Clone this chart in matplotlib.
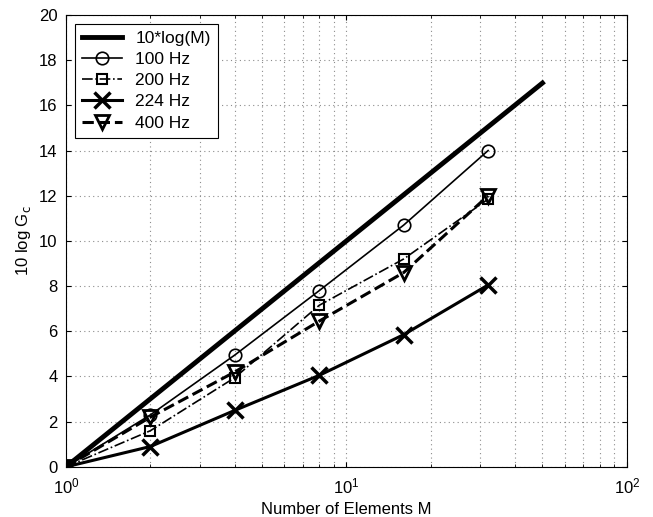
import numpy as np
import matplotlib.pyplot as plt
from matplotlib.ticker import LogLocator, NullFormatter

plt.rcParams['font.family'] = ['Liberation Sans', 'DejaVu Sans']

M = [1, 2, 4, 8, 16, 32]
M_ref = [1, 50]
g_100 = [0, 2.3, 4.95, 7.8, 10.7, 14.0]
g_200 = [0, 1.6, 3.95, 7.15, 9.2, 11.85]
g_224 = [0, 0.9, 2.5, 4.05, 5.85, 8.05]
g_400 = [0, 2.2, 4.2, 6.45, 8.6, 12.0]

fig = plt.figure(figsize=(6.53, 5.17), dpi=100)
ax = fig.add_axes([0.101, 0.097, 0.859, 0.874])

ax.plot(M_ref, 10 * np.log10(M_ref), color="black", lw=3.5, label="10*log(M)")
ax.plot(M, g_100, color="black", lw=1.2, marker="o", ms=9, mfc="none",
        mew=1.2, label="100 Hz")
ax.plot(M, g_200, color="black", lw=1.2, ls="-.", marker="s", ms=7, mfc="none",
        mew=1.5, label="200 Hz")
ax.plot(M, g_224, color="black", lw=2.2, marker="x", ms=11, mew=2.5,
        label="224 Hz")
ax.plot(M, g_400, color="black", lw=2.2, ls="--", marker="v", ms=10, mfc="none",
        mew=2, label="400 Hz")

ax.set_xscale("log")
ax.set_xlim(1, 100)
ax.set_ylim(0, 20)
ax.set_yticks(np.arange(0, 21, 2))
ax.xaxis.set_minor_locator(LogLocator(base=10, subs=np.arange(2, 10)))
ax.xaxis.set_minor_formatter(NullFormatter())
ax.grid(True, which="major", ls=(0, (1, 3)), color="0.55", lw=0.8)
ax.grid(True, which="minor", axis="x", ls=(0, (1, 3)), color="0.55", lw=0.8)
ax.tick_params(which="both", direction="in", top=True, right=True, labelsize=12)
ax.tick_params(axis="x", pad=7)
ax.tick_params(axis="y", pad=6)
ax.set_xlabel("Number of Elements M", fontsize=12)
ax.set_ylabel("10 log G$_\\mathrm{c}$", fontsize=12)

leg = ax.legend(loc="upper left", fontsize=12.5, fancybox=False, edgecolor="black",
                framealpha=1, handlelength=2.3, borderaxespad=0.5,
                labelspacing=0.35)
leg.get_frame().set_linewidth(0.8)

fig.savefig("out.png", dpi=100)
